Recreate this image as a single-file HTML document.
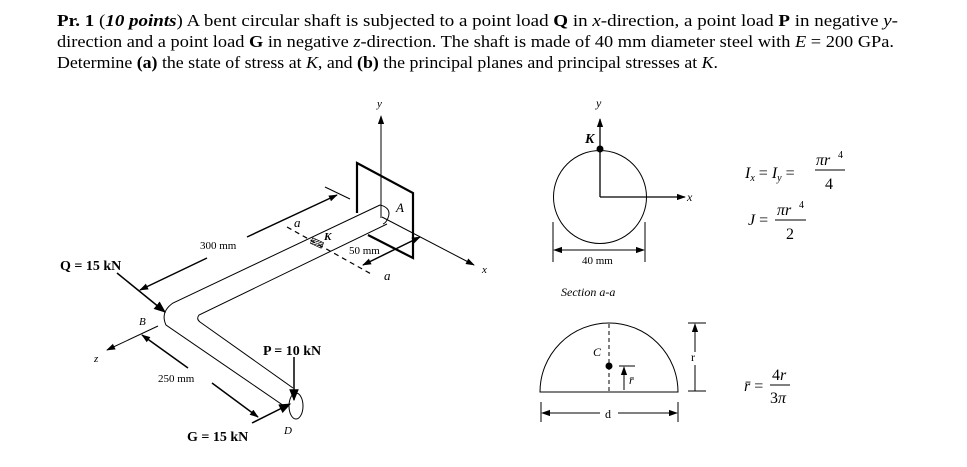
<!DOCTYPE html>
<html><head><meta charset="utf-8"><style>
html,body{margin:0;padding:0;background:#fff}
svg{display:block}
text{font-family:"Liberation Serif",serif;fill:#000}
</style></head><body>
<svg width="967" height="467" viewBox="0 0 967 467" xmlns="http://www.w3.org/2000/svg">
<defs>
<marker id="ah" viewBox="0 0 10 10" refX="9" refY="5" markerWidth="9" markerHeight="9" orient="auto-start-reverse" markerUnits="userSpaceOnUse"><path d="M0,1.5 L10,5 L0,8.5 Z" fill="#000"/></marker>
<marker id="ab" viewBox="0 0 10 10" refX="9" refY="5" markerWidth="12" markerHeight="12" orient="auto" markerUnits="userSpaceOnUse"><path d="M0,1 L10,5 L0,9 Z" fill="#000"/></marker>
<pattern id="hp" width="3" height="3" patternUnits="userSpaceOnUse"><path d="M0,3 L3,0" stroke="#000" stroke-width="0.8"/></pattern>
</defs>
<g font-size="17">
<text x="57" y="26" textLength="841" lengthAdjust="spacingAndGlyphs"><tspan font-weight="bold">Pr. 1</tspan> (<tspan font-weight="bold" font-style="italic">10 points</tspan>) A bent circular shaft is subjected to a point load <tspan font-weight="bold">Q</tspan> in <tspan font-style="italic">x</tspan>-direction, a point load <tspan font-weight="bold">P</tspan> in negative <tspan font-style="italic">y</tspan>-</text>
<text x="57" y="47" textLength="837" lengthAdjust="spacingAndGlyphs">direction and a point load <tspan font-weight="bold">G</tspan> in negative <tspan font-style="italic">z</tspan>-direction. The shaft is made of 40 mm diameter steel with <tspan font-style="italic">E</tspan> = 200 GPa.</text>
<text x="57" y="68" textLength="661" lengthAdjust="spacingAndGlyphs">Determine <tspan font-weight="bold">(a)</tspan> the state of stress at <tspan font-style="italic">K</tspan>, and <tspan font-weight="bold">(b)</tspan> the principal planes and principal stresses at <tspan font-style="italic">K</tspan>.</text>
</g>
<g stroke="#000" fill="none" stroke-width="1">
<!-- plate -->
<path d="M357,213 L357,163 L413,193 L413,258 L368,235" stroke-width="2.2"/>
<!-- shaft -->
<path d="M380,205 L173,303 Q160,312 166,325 L287,408"/>
<path d="M387,224 L199,315 Q196,319 200,322 L293,388"/>
<path d="M380,205 Q392,208 388,218 Q386,223 383,224" />
<ellipse cx="296" cy="406" rx="7" ry="13"/>
<!-- axes -->
<line x1="381" y1="218" x2="381" y2="116" marker-end="url(#ah)"/>
<line x1="382" y1="217" x2="474" y2="265" marker-end="url(#ah)"/>
<line x1="158" y1="326" x2="107" y2="350" marker-end="url(#ah)"/>
<!-- Q -->
<line x1="117" y1="273" x2="165" y2="312" stroke-width="1.5" marker-end="url(#ab)"/>
<!-- 300 mm -->
<line x1="207" y1="258" x2="140" y2="290" stroke-width="1.5" marker-end="url(#ah)"/>
<line x1="247" y1="237" x2="337" y2="195" stroke-width="1.5" marker-end="url(#ah)"/>
<line x1="325" y1="187" x2="350" y2="199"/>
<!-- a-a -->
<line x1="287" y1="227" x2="373" y2="275" stroke-dasharray="5,4" stroke-width="1.2"/>
<!-- 50 mm -->
<line x1="363" y1="265" x2="420" y2="237" stroke-width="1.5" marker-start="url(#ah)" marker-end="url(#ah)"/>
<!-- 250 mm -->
<line x1="188" y1="368" x2="142" y2="335" stroke-width="1.5" marker-end="url(#ah)"/>
<line x1="212" y1="383" x2="258" y2="417" stroke-width="1.5" marker-end="url(#ah)"/>
<!-- P, G -->
<line x1="294" y1="357" x2="294" y2="400" stroke-width="1.5" marker-end="url(#ab)"/>
<line x1="252" y1="423" x2="290" y2="404" stroke-width="1.5" marker-end="url(#ab)"/>
</g>
<rect x="311" y="240" width="12" height="6" fill="url(#hp)" stroke="#000" stroke-width="0.6" transform="rotate(25 317 243)"/>
<g font-size="11">
<text x="377" y="107" font-style="italic">y</text>
<text x="482" y="273" font-style="italic">x</text>
<text x="94" y="362" font-style="italic">z</text>
<text x="200" y="249">300 mm</text>
<text x="349" y="254">50 mm</text>
<text x="158" y="382">250 mm</text>
<text x="294" y="227" font-style="italic" font-size="13">a</text>
<text x="384" y="280" font-style="italic" font-size="13">a</text>
<text x="396" y="212" font-style="italic" font-size="13">A</text>
<text x="324" y="240" font-style="italic" font-weight="bold">K</text>
<text x="139" y="325" font-style="italic">B</text>
<text x="284" y="434" font-style="italic">D</text>
</g>
<g font-size="14" font-weight="bold">
<text x="60" y="270">Q = 15 kN</text>
<text x="263" y="355">P = 10 kN</text>
<text x="187" y="441">G = 15 kN</text>
</g>
<!-- right: section a-a -->
<g stroke="#000" fill="none" stroke-width="1">
<circle cx="600" cy="197" r="46.5"/>
<line x1="600" y1="197" x2="600" y2="119" stroke-width="1.3" marker-end="url(#ah)"/>
<line x1="600" y1="197" x2="685" y2="197" stroke-width="1.3" marker-end="url(#ah)"/>
<line x1="553" y1="222" x2="553" y2="262"/>
<line x1="645" y1="222" x2="645" y2="262"/>
<line x1="554" y1="250" x2="644" y2="250" marker-start="url(#ah)" marker-end="url(#ah)"/>
<!-- semicircle -->
<path d="M540,392 A69,69 0 0 1 678,392 Z"/>
<line x1="609" y1="324" x2="609" y2="392" stroke-dasharray="4,3"/>
<line x1="624" y1="390" x2="624" y2="367" marker-end="url(#ah)"/>
<line x1="619" y1="366" x2="635" y2="366"/>
<line x1="688" y1="323" x2="706" y2="323"/>
<line x1="688" y1="391" x2="706" y2="391"/>
<line x1="695" y1="352" x2="695" y2="324" marker-end="url(#ah)"/>
<line x1="695" y1="365" x2="695" y2="391"/>
<line x1="541" y1="402" x2="541" y2="422"/>
<line x1="678" y1="402" x2="678" y2="422"/>
<line x1="600" y1="413" x2="542" y2="413" marker-end="url(#ah)"/>
<line x1="618" y1="413" x2="677" y2="413" marker-end="url(#ah)"/>
<line x1="815" y1="170" x2="845" y2="170"/>
<line x1="775" y1="220" x2="806" y2="220"/>
<line x1="770" y1="385" x2="790" y2="385"/>
</g>
<circle cx="600" cy="149" r="3.5" fill="#000"/>
<circle cx="609" cy="366" r="3.5" fill="#000"/>
<g font-size="12">
<text x="596" y="107" font-style="italic">y</text>
<text x="585" y="143" font-style="italic" font-weight="bold" font-size="14">K</text>
<text x="687" y="201" font-style="italic">x</text>
<text x="582" y="264" font-size="11">40 mm</text>
<text x="561" y="296" font-style="italic">Section a-a</text>
<text x="593" y="356" font-style="italic">C</text>
<text x="629" y="384" font-style="italic">r̄</text>
<text x="691" y="361">r</text>
<text x="605" y="418">d</text>
</g>
<g font-size="16" font-family="Liberation Serif">
<text x="745" y="178" font-style="italic">I<tspan font-size="10" dy="3">x</tspan><tspan dy="-3" font-style="normal"> = </tspan>I<tspan font-size="10" dy="3">y</tspan><tspan dy="-3" font-style="normal"> =</tspan></text>
<text x="816" y="165" font-style="italic">πr</text><text x="838" y="158" font-size="10">4</text>
<text x="825" y="189">4</text>
<text x="748" y="225" font-style="italic">J <tspan font-style="normal">=</tspan></text>
<text x="777" y="215" font-style="italic">πr</text><text x="799" y="208" font-size="10">4</text>
<text x="786" y="239">2</text>
<text x="744" y="391" font-style="italic">r̄ <tspan font-style="normal">=</tspan></text>
<text x="772" y="380">4<tspan font-style="italic">r</tspan></text>
<text x="770" y="403">3<tspan font-style="italic">π</tspan></text>
</g>
</svg>
</body></html>
